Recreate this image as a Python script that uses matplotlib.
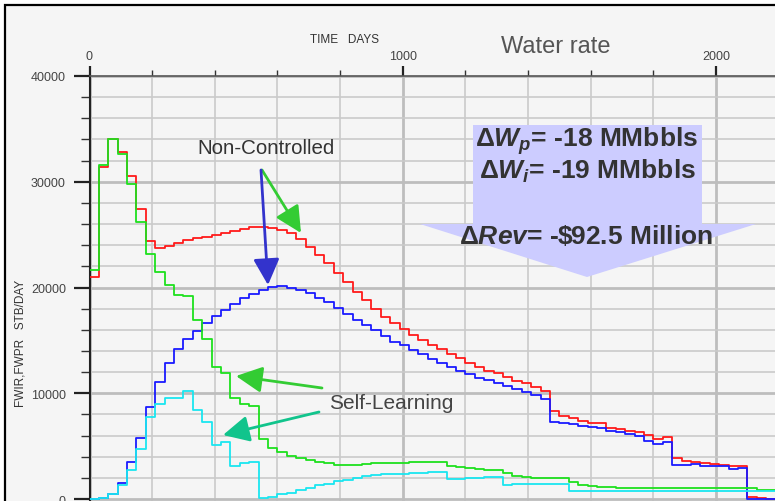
import matplotlib
matplotlib.use("Agg")
import matplotlib.pyplot as plt
from matplotlib.patches import Rectangle, Polygon, FancyArrowPatch
from matplotlib.ticker import MultipleLocator

# ---------------- data (monthly report steps, 30 days each) ----------------
STEP_DAYS = 30
# Non-controlled water production rate (red)
red_fwpr = [20970, 31430, 34000, 32850, 30560, 27420, 24360, 23730, 23950, 24210,
            24460, 24650, 24730, 24960, 25110, 25300, 25530, 25710, 25710, 25590,
            25470, 25150, 24590, 23860, 23090, 22290, 21400, 20490, 19580, 18800,
            17990, 17220, 16600, 16100, 15530, 15030, 14520, 14140, 13740, 13320,
            12900, 12500, 12140, 11890, 11550, 11200, 10940, 10560, 10250, 8330,
            7850, 7640, 7390, 7230, 7140, 6760, 6660, 6440, 6290, 6030,
            5720, 5820, 3840, 3550, 3510, 3370, 3330, 3240, 3110, 3110,
            160, 90, 30]
# Non-controlled water injection rate (blue)
blue_fwir = [0, 70, 470, 1510, 3460, 5750, 8680, 11060, 12890, 14150,
             15120, 15840, 16660, 17290, 17840, 18480, 19020, 19430, 19800, 20050,
             20120, 19960, 19800, 19460, 19050, 18620, 18100, 17510, 16970, 16500,
             15940, 15400, 14870, 14520, 14080, 13670, 13270, 12890, 12510, 12100,
             11850, 11480, 11230, 10940, 10690, 10400, 10120, 9810, 9430, 7290,
             7170, 7070, 6910, 6820, 6670, 6440, 6290, 6130, 5970, 5440,
             5190, 5400, 3210, 3210, 3300, 3140, 3140, 3140, 2830, 2920,
             0, 0, 0]
# Self-learning water production rate (green)
green_fwpr = [21660, 31590, 34010, 32630, 29800, 26240, 23200, 21420, 20270, 19300,
              19210, 16910, 15120, 12500, 11920, 9540, 8960, 8800, 5660, 4870,
              4400, 4090, 3870, 3710, 3520, 3390, 3240, 3240, 3240, 3330,
              3360, 3390, 3420, 3450, 3480, 3500, 3520, 3520, 3080, 2990,
              2890, 2830, 2760, 2760, 2420, 2200, 2040, 1950, 1950, 1950,
              1950, 1570, 1350, 1200, 1100, 1100, 1010, 1010, 1010, 1010,
              1010, 1010, 1010, 1010, 1010, 1010, 1010, 1010, 1010, 1010,
              1010, 880, 880]
# Self-learning water injection rate (cyan)
cyan_fwir = [0, 70, 470, 1350, 2770, 4720, 7760, 8960, 9520, 9520,
             10220, 8390, 7260, 5090, 5400, 3080, 3390, 3520, 60, 220,
             430, 610, 830, 1050, 1280, 1440, 1670, 1820, 1980, 2140,
             2250, 2340, 2360, 2380, 2450, 2450, 2510, 2510, 1890, 1890,
             1950, 2010, 2040, 2040, 1350, 1410, 1410, 1410, 1410, 1410,
             1410, 720, 720, 720, 720, 720, 720, 720, 720, 720,
             720, 720, 720, 720, 720, 720, 720, 720, 720, 720,
             720, 720, 720]

x_ticks = [0, 1000, 2000]
y_ticks = [0, 10000, 20000, 30000, 40000]

# ---------------- figure ----------------
W, H = 775, 502
fig = plt.figure(figsize=(W / 100, H / 100), dpi=100, facecolor="white")


def fx(x):
    return x / W


def fy(y):
    return 1 - y / H


fig.add_artist(Rectangle((fx(5), -0.01), 1.02 - fx(5), fy(6) + 0.01,
                         transform=fig.transFigure, facecolor="#f5f5f5",
                         edgecolor="black", lw=1.6, zorder=-10))

ax = fig.add_axes([fx(89.5), 0, 1 - fx(89.5), fy(77)])
ax.set_facecolor("#f5f5f5")
ax.set_xlim(0, 2188)
ax.set_ylim(-189, 40000)

edges = [STEP_DAYS * k for k in range(len(red_fwpr) + 1)]


def stepline(vals, color, z):
    ax.step(edges, list(vals) + [vals[-1]], where="post", color=color, lw=1.3, zorder=z)


stepline(red_fwpr, "#ff1a1a", 3)
stepline(blue_fwir, "#1a1aff", 4)
stepline(green_fwpr, "#1ee01e", 5)
stepline(cyan_fwir, "#1ae6f0", 6)

# axes styling
ax.xaxis.set_major_locator(matplotlib.ticker.FixedLocator(x_ticks))
ax.xaxis.set_minor_locator(MultipleLocator(200))
ax.yaxis.set_major_locator(matplotlib.ticker.FixedLocator(y_ticks))
ax.yaxis.set_minor_locator(MultipleLocator(2000))
ax.set_axisbelow(True)
ax.grid(which="major", color="#bdbdbd", lw=2.0)
ax.grid(which="minor", color="#cacaca", lw=1.2)

ax.xaxis.tick_top()
ax.tick_params(axis="x", which="major", direction="out", length=7.2, width=1.6,
               color="#222", labelsize=9, labelcolor="#444", pad=3)
ax.tick_params(axis="x", which="minor", direction="out", length=4.3, width=1.0, color="#333")
ax.tick_params(axis="y", which="major", direction="out", length=11.5, width=1.6,
               color="#222", labelsize=9, labelcolor="#444", pad=5.5)
ax.tick_params(axis="y", which="minor", direction="out", length=6.5, width=1.0, color="#333")
for lab in ax.get_xticklabels() + ax.get_yticklabels():
    lab.set_fontfamily("Liberation Sans")

for s in ("right", "bottom"):
    ax.spines[s].set_visible(False)
ax.spines["left"].set_color("#222")
ax.spines["left"].set_linewidth(1.5)
ax.spines["top"].set_color("#555")
ax.spines["top"].set_linewidth(1.2)

# header texts
fig.text(fx(345), fy(40), "TIME   DAYS", ha="center", va="center", fontsize=8.5,
         family="Liberation Sans", color="#333")
fig.text(fx(556), fy(47), "Water rate", ha="center", va="center", fontsize=17,
         family="Liberation Sans", color="#555")
fig.text(fx(21), fy(343), "FWIR,FWPR   STB/DAY", ha="center", va="center", rotation=90,
         fontsize=8.5, family="Liberation Sans", color="#333")

# big light-blue arrow shape
pts = [(473, 126), (702, 126), (702, 225), (756, 225), (587, 278), (420, 225), (473, 225)]
fig.add_artist(Polygon([(fx(x), fy(y)) for x, y in pts], closed=True,
                       transform=fig.transFigure, facecolor="#ccccff",
                       edgecolor="none", zorder=5))

plt.rcParams["mathtext.fontset"] = "custom"
plt.rcParams["mathtext.rm"] = "Liberation Sans:bold"
plt.rcParams["mathtext.it"] = "Liberation Sans:italic:bold"
plt.rcParams["mathtext.bf"] = "Liberation Sans:bold"

box_kw = dict(ha="center", va="center", fontsize=19, fontweight="bold",
              family="Liberation Sans", color="#333", zorder=6)
fig.text(fx(587), fy(141), "Δ$W_p$= -18 MMbbls", **box_kw)
fig.text(fx(587), fy(171), "Δ$W_i$= -19 MMbbls", **box_kw)
fig.text(fx(586), fy(236), r"Δ$Rev$= -\$92.5 Million", **box_kw)

# annotation texts
fig.text(fx(266), fy(149), "Non-Controlled", ha="center", va="center", fontsize=14.8,
         family="Liberation Sans", color="#333")
fig.text(fx(391), fy(404), "Self-Learning", ha="center", va="center", fontsize=15,
         family="Liberation Sans", color="#444")


def arrow(p0, p1, color):
    fig.add_artist(FancyArrowPatch((fx(p0[0]), fy(p0[1])), (fx(p1[0]), fy(p1[1])),
                                   transform=fig.transFigure,
                                   arrowstyle="-|>,head_length=0.8,head_width=0.4",
                                   mutation_scale=20, color=color, lw=2.0,
                                   shrinkA=0, shrinkB=0, zorder=7))


arrow((262, 171), (301, 234), "#33cc33")
arrow((261, 171), (268, 286), "#3333cc")
arrow((322, 389), (236, 377), "#33cc33")
arrow((319, 413), (223, 436), "#11c48c")

fig.savefig("out.png", dpi=100, facecolor=fig.get_facecolor())
